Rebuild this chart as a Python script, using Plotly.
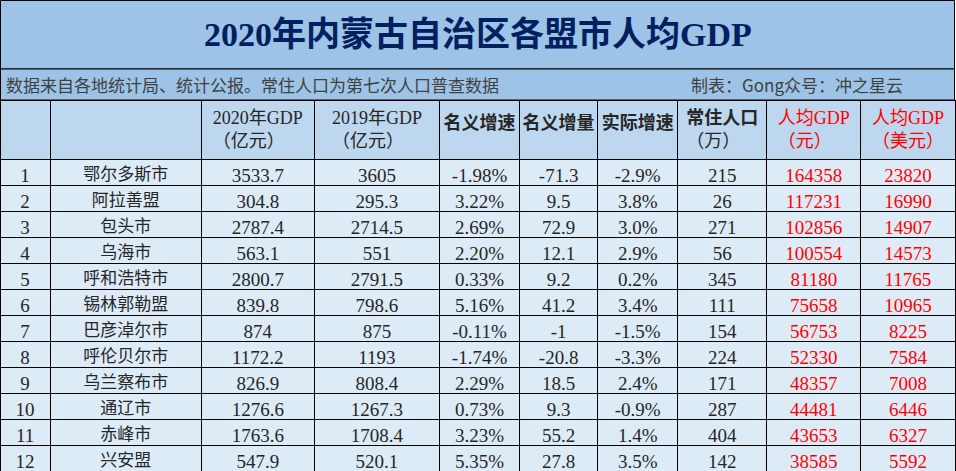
import plotly.graph_objects as go

W, H = 956, 471

title = "2020年内蒙古自治区各盟市人均GDP"
note_left = "数据来自各地统计局、统计公报。常住人口为第七次人口普查数据"
note_right = "制表：Gong众号：冲之星云"

headers = ["", "", "2020年GDP<br>（亿元）", "2019年GDP<br>（亿元）", "<b>名义增速</b>",
           "<b>名义增量</b>", "<b>实际增速</b>", "<b>常住人口</b><br>（万）",
           "人均GDP<br>（元）", "人均GDP<br>（美元）"]

ranks = list(range(1, 13))
cities = ["鄂尔多斯市", "阿拉善盟", "包头市", "乌海市", "呼和浩特市", "锡林郭勒盟",
          "巴彦淖尔市", "呼伦贝尔市", "乌兰察布市", "通辽市", "赤峰市", "兴安盟"]
gdp_2020 = [3533.7, 304.8, 2787.4, 563.1, 2800.7, 839.8, 874, 1172.2, 826.9, 1276.6, 1763.6, 547.9]
gdp_2019 = [3605, 295.3, 2714.5, 551, 2791.5, 798.6, 875, 1193, 808.4, 1267.3, 1708.4, 520.1]
nominal_growth = [-1.98, 3.22, 2.69, 2.20, 0.33, 5.16, -0.11, -1.74, 2.29, 0.73, 3.23, 5.35]
nominal_incr = [-71.3, 9.5, 72.9, 12.1, 9.2, 41.2, -1, -20.8, 18.5, 9.3, 55.2, 27.8]
real_growth = [-2.9, 3.8, 3.0, 2.9, 0.2, 3.4, -1.5, -3.3, 2.4, -0.9, 1.4, 3.5]
population = [215, 26, 271, 56, 345, 111, 154, 224, 171, 287, 404, 142]
per_capita_cny = [164358, 117231, 102856, 100554, 81180, 75658, 56753, 52330, 48357, 44481, 43653, 38585]
per_capita_usd = [23820, 16990, 14907, 14573, 11765, 10965, 8225, 7584, 7008, 6446, 6327, 5592]

col_widths = [50, 151, 113, 125, 80, 78, 80, 89, 94, 94]

serif = "Liberation Serif, Noto Sans CJK SC"
sans = "Noto Sans CJK SC"

columns = [
    [str(r) for r in ranks],
    cities,
    [f"{v:g}" for v in gdp_2020],
    [f"{v:g}" for v in gdp_2019],
    [f"{v:.2f}%" for v in nominal_growth],
    [f"{v:g}" for v in nominal_incr],
    [f"{v:.1f}%" for v in real_growth],
    [str(v) for v in population],
    [str(v) for v in per_capita_cny],
    [str(v) for v in per_capita_usd],
]

black = "#262626"
red = "#ff0000"
col_colors = [black] * 8 + [red, red]
hdr_fonts = [serif, serif, serif, serif, sans, sans, sans, serif, serif, serif]
cell_sizes = [19, 17, 19, 19, 19, 19, 19, 19, 19, 19]

top_px = 100  # table starts below title + note bands
fig = go.Figure(go.Table(
    domain=dict(x=[0, 955 / W], y=[0, 1 - top_px / H]),
    columnwidth=col_widths,
    header=dict(values=headers, height=57, fill_color="#bdd7ee",
                line=dict(color="black", width=1), align="center",
                font=dict(family=hdr_fonts, size=18, color=col_colors)),
    cells=dict(values=columns, height=26, fill_color="#ddebf7",
               line=dict(color="black", width=1), align="center",
               font=dict(family=serif, size=cell_sizes, color=col_colors)),
))


def py(px):
    return 1 - px / H


# title band and note band
fig.add_shape(type="rect", xref="paper", yref="paper", x0=0.5 / W, x1=954.5 / W,
              y0=py(69), y1=py(0.5), fillcolor="#9dc3e6", line=dict(color="black", width=1), layer="below")
fig.add_shape(type="rect", xref="paper", yref="paper", x0=0.5 / W, x1=954.5 / W,
              y0=py(100), y1=py(69), fillcolor="#9dc3e6", line=dict(color="black", width=1), layer="below")

fig.add_annotation(text=f"<b>{title}</b>", xref="paper", yref="paper", x=478 / W, y=py(35),
                   xanchor="center", yanchor="middle",
                   showarrow=False, font=dict(family=serif, size=34, color="#002060"))
fig.add_annotation(text=note_left, xref="paper", yref="paper", x=4 / W, y=py(85),
                   xanchor="left", yanchor="middle",
                   showarrow=False, font=dict(family=sans, size=17, color="#404040"))
fig.add_annotation(text=note_right, xref="paper", yref="paper", x=689 / W, y=py(85),
                   xanchor="left", yanchor="middle",
                   showarrow=False, font=dict(family=sans, size=17, color="#404040"))

fig.update_layout(width=W, height=H, margin=dict(l=0, r=0, t=0, b=0),
                  paper_bgcolor="white", plot_bgcolor="white")

# the page's default 8px body margin would shift the whole figure
fig.write_html("out.html", config={"displayModeBar": False},
               post_script="document.body.style.margin='0px';")
